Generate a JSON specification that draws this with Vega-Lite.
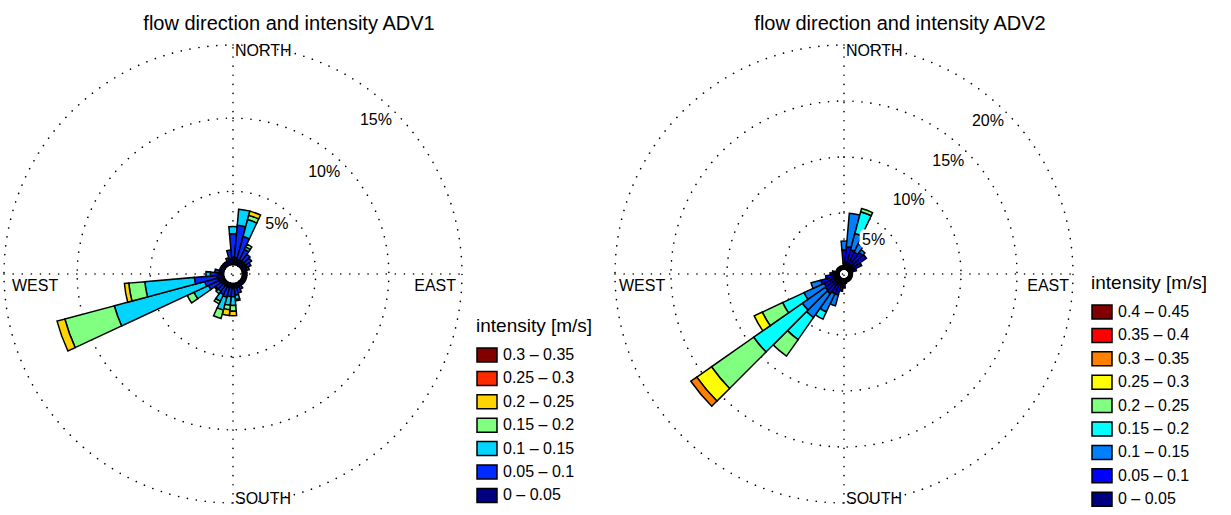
{
  "$schema": "https://vega.github.io/schema/vega-lite/v6.json",
  "padding": {"left": 0, "top": 13, "right": 0, "bottom": 0},
  "bounds": "flush",
  "spacing": 153,
  "config": {
    "view": {"stroke": null},
    "font": "Liberation Sans",
    "title": {"font": "Liberation Sans", "fontSize": 20, "fontWeight": "normal", "color": "black"},
    "text": {"font": "Liberation Sans", "fontSize": 16, "color": "black"}
  },
  "resolve": {
    "scale": {"color": "independent", "radius": "independent", "theta": "independent", "x": "independent", "y": "independent"},
    "legend": {"color": "independent"}
  },
  "hconcat": [
    {
      "width": 458,
      "height": 458,
      "title": {"text": "flow direction and intensity ADV1", "anchor": "middle", "dx": 56, "offset": -8, "baseline": "alphabetic"},
      "layer": [
        {
          "data": {"values": [{"ring": 5}, {"ring": 10}, {"ring": 15}]},
          "mark": {"type": "arc", "theta": 0, "theta2": 6.2832, "fill": "white", "fillOpacity": 0, "stroke": "black", "strokeWidth": 1.6, "strokeDash": [0.1, 8.9], "strokeCap": "round"},
          "encoding": {
            "radius": {"field": "ring", "type": "quantitative", "stack": null, "scale": {"type": "linear", "domain": [0, 15], "range": [9.5, 229], "zero": false, "nice": false}}
          }
        },
        {
          "data": {"values": [{}]},
          "mark": {"type": "rule", "stroke": "black", "strokeWidth": 1.6, "strokeDash": [0.1, 9], "strokeCap": "round"},
          "encoding": {
            "x": {"datum": -1, "type": "quantitative", "scale": {"domain": [-1, 1], "nice": false, "zero": false}, "axis": null},
            "x2": {"datum": 1},
            "y": {"datum": 0, "type": "quantitative", "scale": {"domain": [-1, 1], "nice": false, "zero": false}, "axis": null}
          }
        },
        {
          "data": {"values": [{}]},
          "mark": {"type": "rule", "stroke": "black", "strokeWidth": 1.6, "strokeDash": [0.1, 9], "strokeCap": "round"},
          "encoding": {
            "x": {"datum": 0, "type": "quantitative"},
            "y": {"datum": -1, "type": "quantitative"},
            "y2": {"datum": 1}
          }
        },
        {
          "data": {"values": [
            {"dir": 0, "cls": "0 – 0.05", "pct": 0.5}, {"dir": 0, "cls": "0.05 – 0.1", "pct": 1.6}, {"dir": 0, "cls": "0.1 – 0.15", "pct": 0.5},
            {"dir": 10, "cls": "0 – 0.05", "pct": 0.5}, {"dir": 10, "cls": "0.05 – 0.1", "pct": 2.2}, {"dir": 10, "cls": "0.1 – 0.15", "pct": 1.1},
            {"dir": 20, "cls": "0 – 0.05", "pct": 0.4}, {"dir": 20, "cls": "0.05 – 0.1", "pct": 1.6}, {"dir": 20, "cls": "0.1 – 0.15", "pct": 1.2}, {"dir": 20, "cls": "0.15 – 0.2", "pct": 0.3}, {"dir": 20, "cls": "0.2 – 0.25", "pct": 0.3},
            {"dir": 30, "cls": "0 – 0.05", "pct": 0.4}, {"dir": 30, "cls": "0.05 – 0.1", "pct": 0.8}, {"dir": 30, "cls": "0.1 – 0.15", "pct": 0.2}, {"dir": 30, "cls": "0.15 – 0.2", "pct": 0.2},
            {"dir": 40, "cls": "0 – 0.05", "pct": 0.4}, {"dir": 40, "cls": "0.05 – 0.1", "pct": 0.6},
            {"dir": 50, "cls": "0 – 0.05", "pct": 0.4}, {"dir": 50, "cls": "0.05 – 0.1", "pct": 0.5},
            {"dir": 60, "cls": "0 – 0.05", "pct": 0.4}, {"dir": 60, "cls": "0.05 – 0.1", "pct": 0.3},
            {"dir": 70, "cls": "0 – 0.05", "pct": 0.3}, {"dir": 70, "cls": "0.05 – 0.1", "pct": 0.2},
            {"dir": 80, "cls": "0 – 0.05", "pct": 0.3},
            {"dir": 90, "cls": "0 – 0.05", "pct": 0.3},
            {"dir": 100, "cls": "0 – 0.05", "pct": 0.3},
            {"dir": 110, "cls": "0 – 0.05", "pct": 0.3},
            {"dir": 120, "cls": "0 – 0.05", "pct": 0.3},
            {"dir": 130, "cls": "0 – 0.05", "pct": 0.3},
            {"dir": 140, "cls": "0 – 0.05", "pct": 0.3},
            {"dir": 150, "cls": "0 – 0.05", "pct": 0.3}, {"dir": 150, "cls": "0.05 – 0.1", "pct": 0.2},
            {"dir": 160, "cls": "0 – 0.05", "pct": 0.3}, {"dir": 160, "cls": "0.05 – 0.1", "pct": 0.4},
            {"dir": 170, "cls": "0 – 0.05", "pct": 0.3}, {"dir": 170, "cls": "0.05 – 0.1", "pct": 0.5}, {"dir": 170, "cls": "0.1 – 0.15", "pct": 0.3}, {"dir": 170, "cls": "0.15 – 0.2", "pct": 0.1},
            {"dir": 180, "cls": "0 – 0.05", "pct": 0.3}, {"dir": 180, "cls": "0.05 – 0.1", "pct": 0.6}, {"dir": 180, "cls": "0.1 – 0.15", "pct": 0.6}, {"dir": 180, "cls": "0.15 – 0.2", "pct": 0.4}, {"dir": 180, "cls": "0.2 – 0.25", "pct": 0.3},
            {"dir": 190, "cls": "0 – 0.05", "pct": 0.3}, {"dir": 190, "cls": "0.05 – 0.1", "pct": 0.6}, {"dir": 190, "cls": "0.1 – 0.15", "pct": 0.6}, {"dir": 190, "cls": "0.15 – 0.2", "pct": 0.3}, {"dir": 190, "cls": "0.2 – 0.25", "pct": 0.4},
            {"dir": 200, "cls": "0 – 0.05", "pct": 0.3}, {"dir": 200, "cls": "0.05 – 0.1", "pct": 0.7}, {"dir": 200, "cls": "0.1 – 0.15", "pct": 0.9}, {"dir": 200, "cls": "0.15 – 0.2", "pct": 0.6},
            {"dir": 210, "cls": "0 – 0.05", "pct": 0.3}, {"dir": 210, "cls": "0.05 – 0.1", "pct": 0.6}, {"dir": 210, "cls": "0.1 – 0.15", "pct": 0.5}, {"dir": 210, "cls": "0.15 – 0.2", "pct": 0.2},
            {"dir": 220, "cls": "0 – 0.05", "pct": 0.3}, {"dir": 220, "cls": "0.05 – 0.1", "pct": 0.5}, {"dir": 220, "cls": "0.1 – 0.15", "pct": 0.2},
            {"dir": 230, "cls": "0 – 0.05", "pct": 0.3}, {"dir": 230, "cls": "0.05 – 0.1", "pct": 0.5}, {"dir": 230, "cls": "0.1 – 0.15", "pct": 0.1},
            {"dir": 240, "cls": "0 – 0.05", "pct": 0.4}, {"dir": 240, "cls": "0.05 – 0.1", "pct": 0.8}, {"dir": 240, "cls": "0.1 – 0.15", "pct": 1.1}, {"dir": 240, "cls": "0.15 – 0.2", "pct": 0.5},
            {"dir": 250, "cls": "0 – 0.05", "pct": 0.45}, {"dir": 250, "cls": "0.05 – 0.1", "pct": 0.9}, {"dir": 250, "cls": "0.1 – 0.15", "pct": 6.4}, {"dir": 250, "cls": "0.15 – 0.2", "pct": 3.5}, {"dir": 250, "cls": "0.2 – 0.25", "pct": 0.55},
            {"dir": 260, "cls": "0 – 0.05", "pct": 0.45}, {"dir": 260, "cls": "0.05 – 0.1", "pct": 1.55}, {"dir": 260, "cls": "0.1 – 0.15", "pct": 3.4}, {"dir": 260, "cls": "0.15 – 0.2", "pct": 1.1}, {"dir": 260, "cls": "0.2 – 0.25", "pct": 0.3},
            {"dir": 270, "cls": "0 – 0.05", "pct": 0.4}, {"dir": 270, "cls": "0.05 – 0.1", "pct": 0.5}, {"dir": 270, "cls": "0.1 – 0.15", "pct": 0.3},
            {"dir": 280, "cls": "0 – 0.05", "pct": 0.3}, {"dir": 280, "cls": "0.05 – 0.1", "pct": 0.3},
            {"dir": 290, "cls": "0 – 0.05", "pct": 0.3},
            {"dir": 300, "cls": "0 – 0.05", "pct": 0.3},
            {"dir": 310, "cls": "0 – 0.05", "pct": 0.3},
            {"dir": 320, "cls": "0 – 0.05", "pct": 0.3},
            {"dir": 330, "cls": "0 – 0.05", "pct": 0.3},
            {"dir": 340, "cls": "0 – 0.05", "pct": 0.3}, {"dir": 340, "cls": "0.05 – 0.1", "pct": 0.2},
            {"dir": 350, "cls": "0 – 0.05", "pct": 0.4}, {"dir": 350, "cls": "0.05 – 0.1", "pct": 0.6}
          ]},
          "transform": [
            {"stack": "pct", "groupby": ["dir"], "sort": [{"field": "cls", "order": "ascending"}], "as": ["p0", "p1"]},
            {"calculate": "datum.dir - 5", "as": "t0"},
            {"calculate": "datum.dir + 5", "as": "t1"}
          ],
          "mark": {"type": "arc", "stroke": "black", "strokeWidth": 1.5, "strokeJoin": "miter"},
          "encoding": {
            "theta": {"field": "t0", "type": "quantitative", "stack": null, "scale": {"type": "linear", "domain": [0, 360], "zero": false, "nice": false}},
            "theta2": {"field": "t1"},
            "radius": {"field": "p1", "type": "quantitative", "stack": null, "scale": {"type": "linear", "domain": [0, 15], "range": [9.5, 229], "zero": false, "nice": false}},
            "radius2": {"field": "p0"},
            "color": {
              "field": "cls", "type": "nominal",
              "scale": {
                "domain": ["0.3 – 0.35", "0.25 – 0.3", "0.2 – 0.25", "0.15 – 0.2", "0.1 – 0.15", "0.05 – 0.1", "0 – 0.05"],
                "range": ["#800000", "#FF2A00", "#FFD400", "#80FF80", "#00D4FF", "#002AFF", "#000080"]
              },
              "legend": {
                "orient": "none", "legendX": 472, "legendY": 272, "padding": 0,
                "title": "intensity [m/s]", "titleFont": "Liberation Sans", "titleFontSize": 19, "titleFontWeight": "normal", "titleColor": "black", "titlePadding": 8,
                "labelFont": "Liberation Sans", "labelFontSize": 16, "labelColor": "black", "labelOffset": 5,
                "symbolType": "M-1,-0.7H1V0.7H-1Z", "symbolSize": 400, "symbolStrokeColor": "black", "symbolStrokeWidth": 1.5, "symbolOpacity": 1,
                "rowPadding": 2.4
              }
            }
          }
        },
        {
          "data": {"values": [{"ring": 5, "label": "5%"}, {"ring": 10, "label": "10%"}, {"ring": 15, "label": "15%"}]},
          "mark": {"type": "text", "align": "right", "baseline": "middle", "dx": -3, "dy": 8, "stroke": "white", "strokeWidth": 7, "strokeJoin": "round"},
          "encoding": {
            "theta": {"datum": 45, "type": "quantitative", "stack": null},
            "radius": {"field": "ring", "type": "quantitative", "stack": null},
            "text": {"field": "label"}
          }
        },
        {
          "data": {"values": [{"ring": 5, "label": "5%"}, {"ring": 10, "label": "10%"}, {"ring": 15, "label": "15%"}]},
          "mark": {"type": "text", "align": "right", "baseline": "middle", "dx": -3, "dy": 8},
          "encoding": {
            "theta": {"datum": 45, "type": "quantitative", "stack": null},
            "radius": {"field": "ring", "type": "quantitative", "stack": null},
            "text": {"field": "label"}
          }
        },
        {
          "data": {"values": [{"name": "NORTH"}]},
          "mark": {"type": "text", "align": "left", "baseline": "top", "dx": 2, "dy": -2},
          "encoding": {"x": {"datum": 0, "type": "quantitative"}, "y": {"datum": 1, "type": "quantitative"}, "text": {"field": "name"}}
        },
        {
          "data": {"values": [{"name": "SOUTH"}]},
          "mark": {"type": "text", "align": "left", "baseline": "middle", "dx": 2, "dy": -4},
          "encoding": {"x": {"datum": 0, "type": "quantitative"}, "y": {"datum": -1, "type": "quantitative"}, "text": {"field": "name"}}
        },
        {
          "data": {"values": [{"name": "WEST"}]},
          "mark": {"type": "text", "align": "left", "baseline": "top", "dx": 8, "dy": 4},
          "encoding": {"x": {"datum": -1, "type": "quantitative"}, "y": {"datum": 0, "type": "quantitative"}, "text": {"field": "name"}}
        },
        {
          "data": {"values": [{"name": "EAST"}]},
          "mark": {"type": "text", "align": "right", "baseline": "top", "dx": -6, "dy": 4},
          "encoding": {"x": {"datum": 1, "type": "quantitative"}, "y": {"datum": 0, "type": "quantitative"}, "text": {"field": "name"}}
        }
      ]
    },
    {
      "width": 458,
      "height": 458,
      "title": {"text": "flow direction and intensity ADV2", "anchor": "middle", "dx": 56, "offset": -8, "baseline": "alphabetic"},
      "layer": [
        {
          "data": {"values": [{"ring": 5}, {"ring": 10}, {"ring": 15}, {"ring": 20}]},
          "mark": {"type": "arc", "theta": 0, "theta2": 6.2832, "fill": "white", "fillOpacity": 0, "stroke": "black", "strokeWidth": 1.6, "strokeDash": [0.1, 8.9], "strokeCap": "round"},
          "encoding": {
            "radius": {"field": "ring", "type": "quantitative", "stack": null, "scale": {"type": "linear", "domain": [0, 20], "range": [5, 229], "zero": false, "nice": false}}
          }
        },
        {
          "data": {"values": [{}]},
          "mark": {"type": "rule", "stroke": "black", "strokeWidth": 1.6, "strokeDash": [0.1, 9], "strokeCap": "round"},
          "encoding": {
            "x": {"datum": -1, "type": "quantitative", "scale": {"domain": [-1, 1], "nice": false, "zero": false}, "axis": null},
            "x2": {"datum": 1},
            "y": {"datum": 0, "type": "quantitative", "scale": {"domain": [-1, 1], "nice": false, "zero": false}, "axis": null}
          }
        },
        {
          "data": {"values": [{}]},
          "mark": {"type": "rule", "stroke": "black", "strokeWidth": 1.6, "strokeDash": [0.1, 9], "strokeCap": "round"},
          "encoding": {
            "x": {"datum": 0, "type": "quantitative"},
            "y": {"datum": -1, "type": "quantitative"},
            "y2": {"datum": 1}
          }
        },
        {
          "data": {"values": [
            {"dir": 0, "cls": "0 – 0.05", "pct": 0.5}, {"dir": 0, "cls": "0.05 – 0.1", "pct": 1.2}, {"dir": 0, "cls": "0.1 – 0.15", "pct": 0.8},
            {"dir": 10, "cls": "0 – 0.05", "pct": 0.5}, {"dir": 10, "cls": "0.05 – 0.1", "pct": 1.5}, {"dir": 10, "cls": "0.1 – 0.15", "pct": 3.0},
            {"dir": 20, "cls": "0 – 0.05", "pct": 0.5}, {"dir": 20, "cls": "0.05 – 0.1", "pct": 1.3}, {"dir": 20, "cls": "0.1 – 0.15", "pct": 1.5}, {"dir": 20, "cls": "0.15 – 0.2", "pct": 2.0}, {"dir": 20, "cls": "0.2 – 0.25", "pct": 0.3},
            {"dir": 30, "cls": "0 – 0.05", "pct": 0.5}, {"dir": 30, "cls": "0.05 – 0.1", "pct": 1.2}, {"dir": 30, "cls": "0.1 – 0.15", "pct": 0.8},
            {"dir": 40, "cls": "0 – 0.05", "pct": 0.5}, {"dir": 40, "cls": "0.05 – 0.1", "pct": 1.4}, {"dir": 40, "cls": "0.1 – 0.15", "pct": 0.3},
            {"dir": 50, "cls": "0 – 0.05", "pct": 0.5}, {"dir": 50, "cls": "0.05 – 0.1", "pct": 1.5},
            {"dir": 60, "cls": "0 – 0.05", "pct": 0.5}, {"dir": 60, "cls": "0.05 – 0.1", "pct": 0.8},
            {"dir": 70, "cls": "0 – 0.05", "pct": 0.4}, {"dir": 70, "cls": "0.05 – 0.1", "pct": 0.3},
            {"dir": 80, "cls": "0 – 0.05", "pct": 0.3},
            {"dir": 90, "cls": "0 – 0.05", "pct": 0.3},
            {"dir": 100, "cls": "0 – 0.05", "pct": 0.3},
            {"dir": 110, "cls": "0 – 0.05", "pct": 0.3},
            {"dir": 120, "cls": "0 – 0.05", "pct": 0.3},
            {"dir": 130, "cls": "0 – 0.05", "pct": 0.3},
            {"dir": 140, "cls": "0 – 0.05", "pct": 0.3},
            {"dir": 150, "cls": "0 – 0.05", "pct": 0.3},
            {"dir": 160, "cls": "0 – 0.05", "pct": 0.3},
            {"dir": 170, "cls": "0 – 0.05", "pct": 0.4},
            {"dir": 180, "cls": "0 – 0.05", "pct": 0.5}, {"dir": 180, "cls": "0.05 – 0.1", "pct": 0.3},
            {"dir": 190, "cls": "0 – 0.05", "pct": 0.5}, {"dir": 190, "cls": "0.05 – 0.1", "pct": 0.6},
            {"dir": 200, "cls": "0 – 0.05", "pct": 0.5}, {"dir": 200, "cls": "0.05 – 0.1", "pct": 1.0}, {"dir": 200, "cls": "0.1 – 0.15", "pct": 1.0},
            {"dir": 210, "cls": "0 – 0.05", "pct": 0.5}, {"dir": 210, "cls": "0.05 – 0.1", "pct": 1.0}, {"dir": 210, "cls": "0.1 – 0.15", "pct": 1.8}, {"dir": 210, "cls": "0.15 – 0.2", "pct": 0.7},
            {"dir": 220, "cls": "0 – 0.05", "pct": 0.5}, {"dir": 220, "cls": "0.05 – 0.1", "pct": 1.2}, {"dir": 220, "cls": "0.1 – 0.15", "pct": 2.6}, {"dir": 220, "cls": "0.15 – 0.2", "pct": 2.4}, {"dir": 220, "cls": "0.2 – 0.25", "pct": 1.8},
            {"dir": 230, "cls": "0 – 0.05", "pct": 0.5}, {"dir": 230, "cls": "0.05 – 0.1", "pct": 1.1}, {"dir": 230, "cls": "0.1 – 0.15", "pct": 2.5}, {"dir": 230, "cls": "0.15 – 0.2", "pct": 5.3}, {"dir": 230, "cls": "0.2 – 0.25", "pct": 4.6}, {"dir": 230, "cls": "0.25 – 0.3", "pct": 1.6}, {"dir": 230, "cls": "0.3 – 0.35", "pct": 0.65},
            {"dir": 240, "cls": "0 – 0.05", "pct": 0.5}, {"dir": 240, "cls": "0.05 – 0.1", "pct": 1.0}, {"dir": 240, "cls": "0.1 – 0.15", "pct": 2.0}, {"dir": 240, "cls": "0.15 – 0.2", "pct": 2.1}, {"dir": 240, "cls": "0.2 – 0.25", "pct": 2.0}, {"dir": 240, "cls": "0.25 – 0.3", "pct": 0.8},
            {"dir": 250, "cls": "0 – 0.05", "pct": 0.5}, {"dir": 250, "cls": "0.05 – 0.1", "pct": 1.2}, {"dir": 250, "cls": "0.1 – 0.15", "pct": 0.9},
            {"dir": 260, "cls": "0 – 0.05", "pct": 0.5}, {"dir": 260, "cls": "0.05 – 0.1", "pct": 0.7},
            {"dir": 270, "cls": "0 – 0.05", "pct": 0.5}, {"dir": 270, "cls": "0.05 – 0.1", "pct": 0.3},
            {"dir": 280, "cls": "0 – 0.05", "pct": 0.4}, {"dir": 280, "cls": "0.05 – 0.1", "pct": 0.2},
            {"dir": 290, "cls": "0 – 0.05", "pct": 0.3},
            {"dir": 300, "cls": "0 – 0.05", "pct": 0.3},
            {"dir": 310, "cls": "0 – 0.05", "pct": 0.3},
            {"dir": 320, "cls": "0 – 0.05", "pct": 0.3},
            {"dir": 330, "cls": "0 – 0.05", "pct": 0.3},
            {"dir": 340, "cls": "0 – 0.05", "pct": 0.3},
            {"dir": 350, "cls": "0 – 0.05", "pct": 0.3}
          ]},
          "transform": [
            {"stack": "pct", "groupby": ["dir"], "sort": [{"field": "cls", "order": "ascending"}], "as": ["p0", "p1"]},
            {"calculate": "datum.dir - 5", "as": "t0"},
            {"calculate": "datum.dir + 5", "as": "t1"}
          ],
          "mark": {"type": "arc", "stroke": "black", "strokeWidth": 1.5, "strokeJoin": "miter"},
          "encoding": {
            "theta": {"field": "t0", "type": "quantitative", "stack": null, "scale": {"type": "linear", "domain": [0, 360], "zero": false, "nice": false}},
            "theta2": {"field": "t1"},
            "radius": {"field": "p1", "type": "quantitative", "stack": null, "scale": {"type": "linear", "domain": [0, 20], "range": [5, 229], "zero": false, "nice": false}},
            "radius2": {"field": "p0"},
            "color": {
              "field": "cls", "type": "nominal",
              "scale": {
                "domain": ["0.4 – 0.45", "0.35 – 0.4", "0.3 – 0.35", "0.25 – 0.3", "0.2 – 0.25", "0.15 – 0.2", "0.1 – 0.15", "0.05 – 0.1", "0 – 0.05"],
                "range": ["#800000", "#FF0000", "#FF8000", "#FFFF00", "#80FF80", "#00FFFF", "#0080FF", "#0000FF", "#000080"]
              },
              "legend": {
                "orient": "none", "legendX": 476, "legendY": 229, "padding": 0,
                "title": "intensity [m/s]", "titleFont": "Liberation Sans", "titleFontSize": 19, "titleFontWeight": "normal", "titleColor": "black", "titlePadding": 8,
                "labelFont": "Liberation Sans", "labelFontSize": 16, "labelColor": "black", "labelOffset": 5,
                "symbolType": "M-1,-0.7H1V0.7H-1Z", "symbolSize": 400, "symbolStrokeColor": "black", "symbolStrokeWidth": 1.5, "symbolOpacity": 1,
                "rowPadding": 2.4
              }
            }
          }
        },
        {
          "data": {"values": [{"ring": 5, "label": "5%"}, {"ring": 10, "label": "10%"}, {"ring": 15, "label": "15%"}, {"ring": 20, "label": "20%"}]},
          "mark": {"type": "text", "align": "right", "baseline": "middle", "dx": -2, "dy": 9, "stroke": "white", "strokeWidth": 7, "strokeJoin": "round"},
          "encoding": {
            "theta": {"datum": 45, "type": "quantitative", "stack": null},
            "radius": {"field": "ring", "type": "quantitative", "stack": null},
            "text": {"field": "label"}
          }
        },
        {
          "data": {"values": [{"ring": 5, "label": "5%"}, {"ring": 10, "label": "10%"}, {"ring": 15, "label": "15%"}, {"ring": 20, "label": "20%"}]},
          "mark": {"type": "text", "align": "right", "baseline": "middle", "dx": -2, "dy": 9},
          "encoding": {
            "theta": {"datum": 45, "type": "quantitative", "stack": null},
            "radius": {"field": "ring", "type": "quantitative", "stack": null},
            "text": {"field": "label"}
          }
        },
        {
          "data": {"values": [{"name": "NORTH"}]},
          "mark": {"type": "text", "align": "left", "baseline": "top", "dx": 2, "dy": -2},
          "encoding": {"x": {"datum": 0, "type": "quantitative"}, "y": {"datum": 1, "type": "quantitative"}, "text": {"field": "name"}}
        },
        {
          "data": {"values": [{"name": "SOUTH"}]},
          "mark": {"type": "text", "align": "left", "baseline": "middle", "dx": 2, "dy": -4},
          "encoding": {"x": {"datum": 0, "type": "quantitative"}, "y": {"datum": -1, "type": "quantitative"}, "text": {"field": "name"}}
        },
        {
          "data": {"values": [{"name": "WEST"}]},
          "mark": {"type": "text", "align": "left", "baseline": "top", "dx": 4, "dy": 4},
          "encoding": {"x": {"datum": -1, "type": "quantitative"}, "y": {"datum": 0, "type": "quantitative"}, "text": {"field": "name"}}
        },
        {
          "data": {"values": [{"name": "EAST"}]},
          "mark": {"type": "text", "align": "right", "baseline": "top", "dx": -4, "dy": 4},
          "encoding": {"x": {"datum": 1, "type": "quantitative"}, "y": {"datum": 0, "type": "quantitative"}, "text": {"field": "name"}}
        }
      ]
    }
  ]
}
